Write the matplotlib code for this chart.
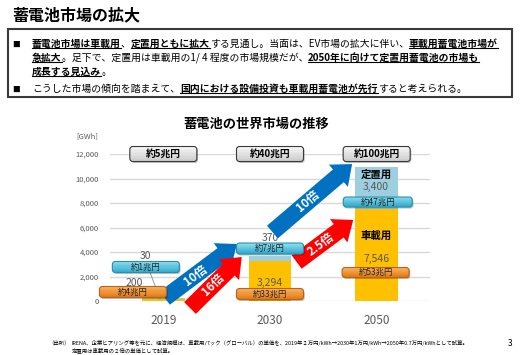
import numpy as np
import matplotlib
matplotlib.use("Agg")
import matplotlib.pyplot as plt
from matplotlib.patches import FancyBboxPatch, FancyArrowPatch, Rectangle
from matplotlib.transforms import IdentityTransform
from matplotlib.lines import Line2D
from matplotlib.colors import to_rgb

plt.rcParams['font.family'] = ['Noto Sans CJK JP', 'DejaVu Sans']

# ---- data (GWh, global battery market) ----
years = ["2019", "2030", "2050"]
vehicle = [200, 3294, 7546]        # 車載用
stationary = [30, 370, 3400]       # 定置用
total_yen = ["約5兆円", "約40兆円", "約100兆円"]
vehicle_yen = ["約4兆円", "約33兆円", "約53兆円"]
stationary_yen = ["約1兆円", "約7兆円", "約47兆円"]
stationary_growth = ["10倍", "10倍"]
vehicle_growth = ["16倍", "2.5倍"]
yticks = [0, 2000, 4000, 6000, 8000, 10000, 12000]

W, H = 521, 355
YELLOW, LBLUE, GRAY = "#FFC000", "#9DCFE0", "#595959"
BLUE_ARR, RED_ARR = "#0070C0", "#FF0000"

fig = plt.figure(figsize=(W / 100, H / 100), dpi=100)
fig.patch.set_facecolor("white")
renderer = fig.canvas.get_renderer()
ID = IdentityTransform()


def ftext(x, y, s, **kw):
    """text at pixel position measured from the top-left corner"""
    return fig.text(x / W, 1 - y / H, s, **kw)


# ---- header ----
ftext(12, 15, "蓄電池市場の拡大", fontsize=11.5, fontweight="bold", va="center")
fig.add_artist(Rectangle((8, H - 97), 504, 68, fc="white", ec="#3a3a3a", lw=1.5,
                         transform=ID, zorder=1))


def runs(x, y, parts, fs=7.1):
    for s, strong in parts:
        t = ftext(x, y, s, fontsize=fs, fontweight="bold" if strong else "normal",
                  va="baseline", ha="left", zorder=2)
        w = t.get_window_extent(renderer).width
        if strong:
            fig.add_artist(Line2D([x, x + w], [H - y - 1.6] * 2, color="black", lw=0.8,
                                  transform=ID, zorder=2))
        x += w


for yy in (46.5, 91.5):
    ftext(12.5, yy, "■", fontsize=5.5, va="baseline", zorder=2)
runs(32, 46.5, [("蓄電池市場は車載用", True), ("、", False), ("定置用ともに拡大", True),
                ("する見通し。当面は、EV市場の拡大に伴い、", False), ("車載用蓄電池市場が", True)])
runs(32, 60.5, [("急拡大", True), ("。足下で、定置用は車載用の1/ 4 程度の市場規模だが、", False),
                ("2050年に向けて定置用蓄電池の市場も", True)])
runs(32, 74.5, [("成長する見込み", True), ("。", False)])
runs(32, 91.5, [("こうした市場の傾向を踏まえて、", False),
                ("国内における設備投資も車載用蓄電池が先行", True), ("すると考えられる。", False)])

# ---- chart ----
ftext(256, 124, "蓄電池の世界市場の推移", fontsize=9.5, fontweight="bold", ha="center", va="center")
ftext(87, 136, "[GWh]", fontsize=5.5, color=GRAY, ha="center", va="center")

ax = fig.add_axes([110 / W, 1 - 301 / H, 320 / W, 147 / H])
x = np.arange(len(years))
ax.bar(x, vehicle, width=0.4, color=YELLOW, zorder=2)
ax.bar(x, stationary, width=0.4, bottom=vehicle, color=LBLUE, zorder=2)
ax.set_xlim(-0.5, 2.5)
ax.set_ylim(0, 12000)
ax.set_yticks(yticks)
ax.set_yticklabels([f"{v:,}" for v in yticks])
ax.set_xticks(x)
ax.set_xticklabels(years)
ax.tick_params(axis="y", length=0, pad=8, labelsize=5.5, labelcolor=GRAY)
ax.tick_params(axis="x", length=0, pad=9, labelsize=8.5, labelcolor=GRAY)
ax.grid(axis="y", color="#D9D9D9", lw=1, zorder=0)
for s in ax.spines.values():
    s.set_visible(False)
ax.set_facecolor("none")


def disp(xd, yd):
    return ax.transData.transform((xd, yd))


def mix(c1, c2, t):
    a, b = np.array(to_rgb(c1)), np.array(to_rgb(c2))
    return tuple(a + (b - a) * t)


def gbox(xd, yd, text, w, h, top, bot, ec, fs=6, bold=False, tc="#222222", z=5):
    cx, cy = disp(xd, yd)
    x0, y0 = cx - w / 2, cy - h / 2
    style = "round,pad=0,rounding_size=3"
    fig.add_artist(FancyBboxPatch((x0 + 1.2, y0 - 1.5), w, h, boxstyle=style, fc="black",
                                  alpha=0.25, ec="none", transform=ID, zorder=z))
    bx = FancyBboxPatch((x0, y0), w, h, boxstyle=style, fc=bot, ec="none",
                        transform=ID, zorder=z + 0.1)
    fig.add_artist(bx)
    n = 10
    for i in range(n):
        r = Rectangle((x0, y0 + h * (1 - (i + 1) / n)), w, h / n + 0.6,
                      fc=mix(top, bot, i / (n - 1)), ec="none", transform=ID, zorder=z + 0.2)
        r.set_clip_path(bx)
        fig.add_artist(r)
    fig.add_artist(FancyBboxPatch((x0, y0), w, h, boxstyle=style, fc="none", ec=ec, lw=0.8,
                                  transform=ID, zorder=z + 0.3))
    fig.text(cx / W, cy / H, text, fontsize=fs, color=tc, ha="center", va="center",
             fontweight="bold" if bold else "normal", zorder=z + 0.4)


ORANGE = ("#F9B466", "#E47C14", "#B8641A")
CYAN = ("#92DDF0", "#36AFCF", "#2A8FAE")
GREYB = ("#F7F7F7", "#CFCFCF", "#3A3A3A")

# total market value boxes
for i, s in enumerate(total_yen):
    gbox(i, 12000, s, 67, 15, *GREYB, fs=7, bold=True, tc="black")

# 2019 labels
ax.plot([-0.125, -0.03], [2350, 150], color="#9a9a9a", lw=0.7, zorder=3, clip_on=False)
gbox(-0.285, 734, vehicle_yen[0], 67, 11, *ORANGE)
gbox(-0.164, 2775, stationary_yen[0], 67, 11, *CYAN)
ax.text(-0.276, 1470, f"{vehicle[0]:,}", fontsize=7.5, color=GRAY, ha="center", va="center")
ax.text(-0.164, 3670, f"{stationary[0]:,}", fontsize=7.5, color=GRAY, ha="center", va="center")

# 2030 labels
gbox(1.0, 4284, stationary_yen[1], 67, 11, *CYAN)
gbox(1.0, 571, vehicle_yen[1], 67, 11, *ORANGE)
ax.text(1.005, 5140, f"{stationary[1]:,}", fontsize=7.5, color=GRAY, ha="center", va="center")
ax.text(1.0, 1470, f"{vehicle[1]:,}", fontsize=7.5, color=GRAY, ha="center", va="center")

# 2050 labels
ax.text(1.995, 10280, "定置用", fontsize=7.5, fontweight="bold", ha="center", va="center")
ax.text(1.995, 9300, f"{stationary[2]:,}", fontsize=7.5, color=GRAY, ha="center", va="center")
gbox(2.01, 8080, stationary_yen[2], 69, 10, *CYAN)
ax.text(1.995, 5300, "車載用", fontsize=7.5, fontweight="bold", ha="center", va="center")
ax.text(1.995, 3430, f"{vehicle[2]:,}", fontsize=7.5, color=GRAY, ha="center", va="center")
gbox(1.99, 2325, vehicle_yen[2], 67, 10, *ORANGE)

# growth arrows: (tail, tip, label position fraction, colour, label)
arrows = [
    ((0.014, 245), (0.69, 4650), 0.42, BLUE_ARR, stationary_growth[0]),
    ((0.25, -570), (0.735, 3590), 0.45, RED_ARR, vehicle_growth[0]),
    ((1.023, 5630), (1.77, 11180), 0.45, BLUE_ARR, stationary_growth[1]),
    ((1.25, 3180), (1.78, 6610), 0.42, RED_ARR, vehicle_growth[1]),
]
for a, b, f, col, lab in arrows:
    ax.add_patch(FancyArrowPatch(a, b, arrowstyle="simple,head_length=1.3,head_width=2.1,tail_width=1.2",
                                 mutation_scale=10, color=col, lw=0, shrinkA=0, shrinkB=0,
                                 clip_on=False, zorder=4))
    pa, pb = disp(*a), disp(*b)
    ang = np.degrees(np.arctan2(pb[1] - pa[1], pb[0] - pa[0]))
    mx, my = a[0] + (b[0] - a[0]) * f, a[1] + (b[1] - a[1]) * f
    ax.text(mx, my, lab, fontsize=8.5, fontweight="bold", color="white", rotation=ang,
            rotation_mode="anchor", ha="center", va="center", zorder=5, clip_on=False)

# ---- footnote ----
ftext(48, 343, "（出所）", fontsize=3.9, va="center")
ftext(72, 343, "IRENA、企業ヒアリング等を元に、経済規模は、車載用パック（グローバル）の単価を、"
      "2019年２万円/kWh→2030年1万円/kWh→2050年0.7万円/kWhとして試算。", fontsize=3.9, va="center")
ftext(72, 350, "定置用は車載用の２倍の単価として試算。", fontsize=3.9, va="center")
ftext(510, 343, "3", fontsize=6, va="center", ha="center")

fig.savefig("out.png", dpi=100, facecolor="white")
